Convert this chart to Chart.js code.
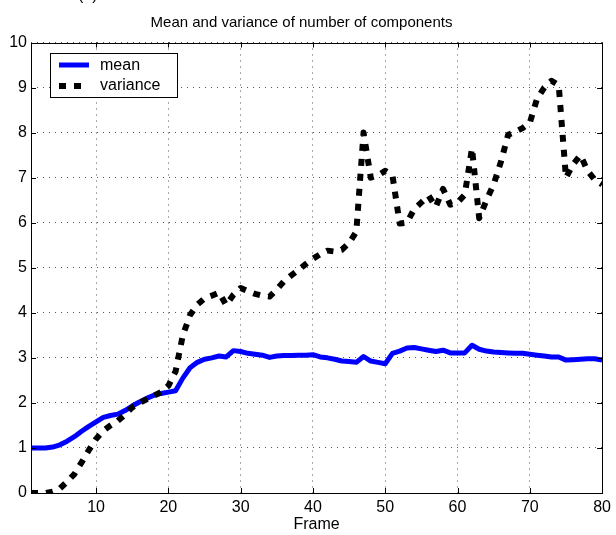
<!DOCTYPE html>
<html><head><meta charset="utf-8">
<script src="https://cdn.jsdelivr.net/npm/chart.js@4/dist/chart.umd.min.js"></script>
<style>html,body{margin:0;padding:0;background:#fff;overflow:hidden}</style>
</head><body>
<canvas id="c" width="616" height="535"></canvas>
<script>
const frames = [1,2,3,4,5,6,7,8,9,10,11,12,13,14,15,16,17,18,19,20,
  21,22,23,24,25,26,27,28,29,30,31,32,33,34,35,36,37,38,39,40,
  41,42,43,44,45,46,47,48,49,50,51,52,53,54,55,56,57,58,59,60,
  61,62,63,64,65,66,67,68,69,70,71,72,73,74,75,76,77,78,79,80];
const meanValues = [1.00,1.00,1.00,1.02,1.07,1.15,1.25,1.37,1.48,1.58,
  1.68,1.72,1.75,1.83,1.93,2.02,2.10,2.17,2.21,2.24,
  2.27,2.55,2.78,2.90,2.97,3.00,3.04,3.02,3.16,3.14,
  3.10,3.08,3.06,3.01,3.04,3.05,3.05,3.06,3.06,3.07,
  3.02,3.00,2.97,2.93,2.92,2.90,3.03,2.93,2.90,2.87,
  3.10,3.15,3.22,3.23,3.20,3.17,3.14,3.17,3.11,3.11,
  3.11,3.28,3.19,3.15,3.13,3.12,3.11,3.10,3.10,3.08,
  3.06,3.04,3.02,3.02,2.95,2.96,2.97,2.98,2.98,2.95];
const varianceValues = [0.00,0.00,0.00,0.03,0.10,0.25,0.42,0.68,0.95,1.20,
  1.38,1.50,1.60,1.74,1.90,2.00,2.08,2.16,2.24,2.38,
  2.70,3.50,3.95,4.18,4.32,4.38,4.45,4.17,4.40,4.55,
  4.48,4.42,4.38,4.36,4.52,4.70,4.83,4.95,5.08,5.20,
  5.30,5.38,5.36,5.40,5.55,5.80,8.00,7.00,7.05,7.15,
  7.05,5.98,6.00,6.30,6.45,6.60,6.35,6.75,6.40,6.45,
  6.62,7.65,6.10,6.50,6.85,7.35,7.95,8.02,8.10,8.22,
  8.75,9.00,9.15,9.05,7.00,7.30,7.50,7.15,6.95,6.85];
const xTickValues = [10,20,30,40,50,60,70,80];
const yTickValues = [0,1,2,3,4,5,6,7,8,9,10];
const seriesNames = ['mean','variance'];
const titleText = 'Mean and variance of number of components';
const xAxisLabel = 'Frame';
const panelLabel = '(a)';

const FONT = "'Liberation Sans', Arial, Helvetica, sans-serif";
const MEAN_COLOR = '#0000ff';
const VAR_COLOR = '#000000';

const boxPlugin = {
  id: 'matlabBox',
  afterDraw(chart) {
    const ctx = chart.ctx, ca = chart.chartArea;
    const xs = chart.scales.x, ys = chart.scales.y;
    ctx.save();
    ctx.strokeStyle = '#000';
    ctx.lineWidth = 1;
    ctx.setLineDash([]);
    ctx.strokeRect(Math.round(ca.left) + 0.5, Math.round(ca.top) + 0.5,
      Math.round(ca.right) - Math.round(ca.left), Math.round(ca.bottom) - Math.round(ca.top));
    ctx.beginPath();
    xTickValues.forEach(v => {
      const px = Math.round(xs.getPixelForValue(v)) + 0.5;
      ctx.moveTo(px, ca.bottom); ctx.lineTo(px, ca.bottom - 5);
      ctx.moveTo(px, ca.top); ctx.lineTo(px, ca.top + 5);
    });
    yTickValues.forEach(v => {
      const py = Math.round(ys.getPixelForValue(v)) + 0.5;
      ctx.moveTo(ca.left, py); ctx.lineTo(ca.left + 5, py);
      ctx.moveTo(ca.right, py); ctx.lineTo(ca.right - 5, py);
    });
    ctx.stroke();

    // legend
    const lx = 50, ly = 53, lw = 127, lh = 44;
    ctx.fillStyle = '#fff';
    ctx.fillRect(lx, ly, lw, lh);
    ctx.strokeRect(lx + 0.5, ly + 0.5, lw, lh);
    const ds = chart.data.datasets;
    ctx.lineCap = 'butt';
    ctx.strokeStyle = ds[0].borderColor; ctx.lineWidth = ds[0].borderWidth;
    ctx.beginPath(); ctx.moveTo(59, 65); ctx.lineTo(89, 65); ctx.stroke();
    ctx.strokeStyle = ds[1].borderColor; ctx.lineWidth = ds[1].borderWidth;
    ctx.setLineDash(ds[1].borderDash);
    ctx.beginPath(); ctx.moveTo(59, 86); ctx.lineTo(89, 86); ctx.stroke();
    ctx.setLineDash([]);
    ctx.fillStyle = '#000';
    ctx.font = '16px ' + FONT;
    ctx.textBaseline = 'middle';
    ctx.textAlign = 'left';
    ctx.fillText(ds[0].label, 100, 66);
    ctx.fillText(ds[1].label, 100, 86);

    // cropped panel label
    ctx.font = '16px ' + FONT;
    ctx.textBaseline = 'alphabetic';
    ctx.fillText(panelLabel, 78, 0);
    ctx.restore();
  }
};

new Chart(document.getElementById('c'), {
  type: 'line',
  data: {
    datasets: [
      { label: seriesNames[0], data: frames.map((f, i) => ({x: f, y: meanValues[i]})),
        borderColor: MEAN_COLOR, borderWidth: 5, borderJoinStyle: 'round',
        pointRadius: 0, tension: 0, fill: false, order: 1 },
      { label: seriesNames[1], data: frames.map((f, i) => ({x: f, y: varianceValues[i]})),
        borderColor: VAR_COLOR, borderWidth: 6, borderDash: [7, 8], borderCapStyle: 'butt',
        borderJoinStyle: 'round', pointRadius: 0, tension: 0, fill: false, order: 0 }
    ]
  },
  options: {
    responsive: false,
    animation: false,
    devicePixelRatio: 1,
    layout: { padding: { left: 0, right: 13, top: 0, bottom: 0 } },
    plugins: {
      legend: { display: false },
      tooltip: { enabled: false },
      title: { display: true, text: titleText, color: '#000',
        font: { family: FONT, size: 15, weight: 'normal', lineHeight: 1.2 },
        padding: { top: 14, bottom: 10.5 } }
    },
    scales: {
      x: {
        type: 'linear', min: 1, max: 80,
        afterBuildTicks: s => { s.ticks = xTickValues.map(v => ({value: v})); },
        afterFit: s => { s.height = 42; },
        grid: { color: '#555', lineWidth: 1, drawTicks: false },
        border: { display: false, dash: [1, 5] },
        ticks: { color: '#000', padding: 5, maxRotation: 0, autoSkip: false,
          font: { family: FONT, size: 16 } },
        title: { display: true, text: xAxisLabel, color: '#000',
          font: { family: FONT, size: 16 }, padding: { top: 0, bottom: 1 } }
      },
      y: {
        type: 'linear', min: 0, max: 10,
        afterBuildTicks: s => { s.ticks = yTickValues.map(v => ({value: v})); },
        afterFit: s => { s.width = 31; },
        grid: { color: '#555', lineWidth: 1, drawTicks: false },
        border: { display: false, dash: [1, 5] },
        ticks: { color: '#000', padding: 4, font: { family: FONT, size: 16 } }
      }
    }
  },
  plugins: [boxPlugin]
});
</script>
</body></html>
